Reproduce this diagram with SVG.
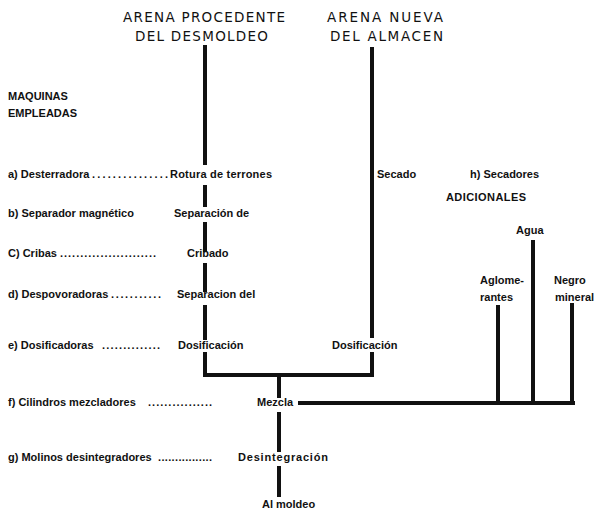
<svg xmlns="http://www.w3.org/2000/svg" width="599" height="514" viewBox="0 0 599 514">
<style>
.t{font-family:"Liberation Sans",Arial,sans-serif;font-size:11px;font-weight:bold;fill:#111}
.h{font-family:"DejaVu Sans",sans-serif;font-size:13.5px;fill:#111}
.c{fill:none;stroke:#111;stroke-width:4;stroke-linecap:butt}
</style>
<rect width="599" height="514" fill="#fff"/>
<g id="head-desmoldeo"><text class="h" x="123" y="22" textLength="162" lengthAdjust="spacing">ARENA PROCEDENTE</text><text class="h" x="135" y="41" textLength="133" lengthAdjust="spacing">DEL DESMOLDEO</text></g>
<g id="head-almacen"><text class="h" x="327" y="22" textLength="116" lengthAdjust="spacing">ARENA NUEVA</text><text class="h" x="330" y="41" textLength="113" lengthAdjust="spacing">DEL ALMACEN</text></g>
<g id="maquinas"><text class="t" x="8" y="100">MAQUINAS</text><text class="t" x="8" y="117">EMPLEADAS</text></g>
<g id="a"><text class="t" x="8" y="178">a) Desterradora</text><text class="t" x="92" y="178" textLength="76">...............</text><text class="t" x="170" y="178" textLength="102">Rotura de terrones</text></g>
<g id="b"><text class="t" x="8" y="217">b) Separador magnético</text><text class="t" x="174" y="217">Separación de</text></g>
<g id="c"><text class="t" x="8" y="257">C) Cribas</text><text class="t" x="60" y="257" textLength="96">........................</text><text class="t" x="187" y="257">Cribado</text></g>
<g id="d"><text class="t" x="8" y="298">d) Despovoradoras</text><text class="t" x="111" y="298" textLength="50">...........</text><text class="t" x="177" y="298">Separacion del</text></g>
<g id="e"><text class="t" x="8" y="349">e) Dosificadoras</text><text class="t" x="102" y="349" textLength="58">..............</text><text class="t" x="178" y="349">Dosificación</text></g>
<g id="f"><text class="t" x="8" y="406">f) Cilindros mezcladores</text><text class="t" x="148" y="406" textLength="64">................</text><text class="t" x="257" y="406">Mezcla</text></g>
<g id="g"><text class="t" x="8" y="461">g) Molinos desintegradores</text><text class="t" x="158" y="461" textLength="54">................</text><text class="t" x="238" y="461" textLength="90">Desintegración</text></g>
<g id="moldeo"><text class="t" x="262" y="508">Al moldeo</text></g>
<g id="secado"><text class="t" x="377" y="178">Secado</text></g>
<g id="h"><text class="t" x="470" y="178">h) Secadores</text></g>
<g id="dos2"><text class="t" x="332" y="349">Dosificación</text></g>
<g id="adicionales"><text class="t" x="446" y="201" textLength="80">ADICIONALES</text></g>
<g id="agua"><text class="t" x="516" y="234">Agua</text></g>
<g id="aglom"><text class="t" x="480" y="284">Aglome-</text><text class="t" x="480" y="301">rantes</text></g>
<g id="negro"><text class="t" x="554" y="284">Negro</text><text class="t" x="555" y="301">mineral</text></g>
<g id="connectors">
<path class="c" d="M205 45V165M205 185V207M205 222V252M205 263V292M205 305V340M205 352V375H372V352M372 47V338M279 375V398M279 412V452M279 466V497M298 403H575M498 305V403M533 240V403M572 303V403"/>
</g>
</svg>
